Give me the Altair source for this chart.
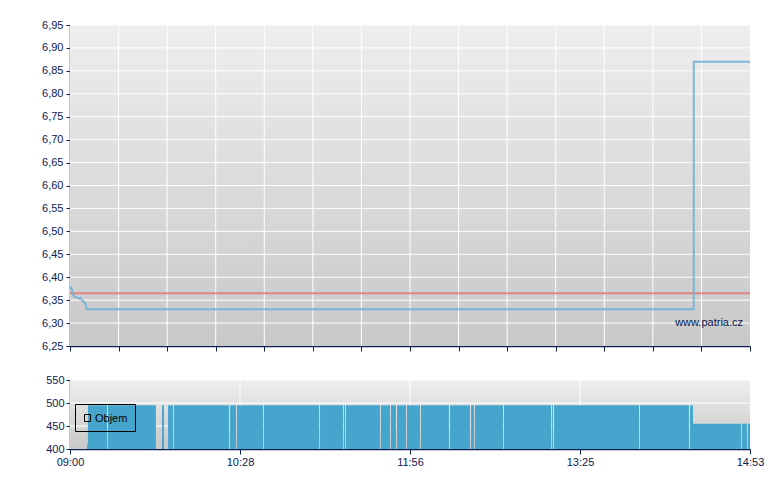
import altair as alt
import pandas as pd

# ---- data (minutes after 09:00) ----
price_t = [0, 1.0, 1.6, 2.6, 4.2, 4.9, 5.5, 6.2, 7.8, 8.8, 323.8, 323.8, 353]
price_v = [6.38, 6.373, 6.362, 6.357, 6.355, 6.353, 6.355, 6.35, 6.344, 6.33, 6.33, 6.87, 6.87]
prev_close = 6.365

vol_start = [8.8, 9.3, 19.7, 47.8, 50.9, 54.0, 83.1, 86.7, 100.7, 129.8, 142.2, 143.3, 161.4,
             166.6, 169.8, 174.9, 182.2, 197.3, 208.2, 210.2, 225.3, 250.2, 251.3, 295.9,
             321.9, 323.4, 348.8, 351.9]
vol_end = [9.3, 19.2, 44.6, 48.8, 53.5, 82.5, 86.2, 100.2, 129.3, 141.7, 142.8, 160.9, 166.1,
           169.2, 174.4, 181.7, 196.7, 207.6, 209.7, 224.8, 249.7, 250.7, 295.4, 321.3,
           323.4, 348.3, 351.4, 353]
vol_value = [410] + [495] * 24 + [455, 455, 455]

x_ticks_bottom = [0, 88.25, 176.5, 264.75, 353]
x_labels_bottom = ["09:00", "10:28", "11:56", "13:25", "14:53"]
x_ticks_top = [round(353 * i / 14, 4) for i in range(15)]
y_ticks_top = [6.25, 6.30, 6.35, 6.40, 6.45, 6.50, 6.55, 6.60, 6.65, 6.70, 6.75, 6.80, 6.85, 6.90, 6.95]
y_ticks_bottom = [400, 450, 500, 550]

NAVY = "#0C2052"
FONT = "Liberation Sans"

price_df = pd.DataFrame({"t": price_t, "v": price_v, "i": list(range(len(price_t)))})
vol_df = pd.DataFrame({"s": vol_start, "e": vol_end, "v": vol_value})
one = pd.DataFrame({"a": [0]})

xscale = alt.Scale(domain=[0, 353], nice=False, zero=False)
top_y_scale = alt.Scale(domain=[6.25, 6.95], nice=False, zero=False)
bot_y_scale = alt.Scale(domain=[400, 550], nice=False, zero=False)

grad = alt.LinearGradient(
    gradient="linear",
    stops=[alt.GradientStop(color="#eeeeee", offset=0),
           alt.GradientStop(color="#c8c8c8", offset=1)],
    x1=0, x2=0, y1=0, y2=1,
)

# ---- top price chart ----
top_xaxis = alt.Axis(values=x_ticks_top, labels=False, grid=False, tickSize=5,
                     title=None, minExtent=5, maxExtent=5)
top_yaxis = alt.Axis(values=y_ticks_top, grid=False, tickSize=4, labelPadding=3,
                     title=None, minExtent=50, maxExtent=50, labelOverlap=False,
                     labelExpr="replace(format(datum.value, '.2f'), '.', ',')")

top_bg = alt.Chart(one).mark_rect(color=grad).encode(
    x=alt.X(datum=0, scale=xscale, axis=top_xaxis, title=None),
    x2=alt.datum(353),
    y=alt.Y(datum=6.25, scale=top_y_scale, axis=top_yaxis, title=None),
    y2=alt.datum(6.95),
)
top_vgrid = alt.Chart(pd.DataFrame({"g": x_ticks_top[1:-1]})).mark_rule(
    color="white", strokeWidth=1).encode(
    x=alt.X("g:Q", scale=xscale, axis=top_xaxis, title=None))
top_hgrid = alt.Chart(pd.DataFrame({"g": y_ticks_top[1:]})).mark_rule(
    color="white", strokeWidth=1).encode(
    y=alt.Y("g:Q", scale=top_y_scale, axis=top_yaxis, title=None))

line = alt.Chart(price_df).mark_line(color="#70B3D6", strokeWidth=2, opacity=0.9).encode(
    x=alt.X("t:Q", scale=xscale, axis=top_xaxis, title=None),
    y=alt.Y("v:Q", scale=top_y_scale, axis=top_yaxis, title=None),
    order="i:Q",
)
rule = alt.Chart(one).mark_rule(color="#E07478", strokeWidth=2, opacity=0.85).encode(
    y=alt.Y(datum=prev_close, scale=top_y_scale, axis=top_yaxis, title=None)
)
mark_txt = alt.Chart(one).mark_text(text="www.patria.cz", align="right", baseline="middle",
                                    font=FONT, fontSize=11, color=NAVY).encode(
    x=alt.value(673), y=alt.value(298)
)
top = alt.layer(top_bg, top_vgrid, top_hgrid, rule, line, mark_txt).properties(
    width=680, height=321)

# ---- bottom volume chart ----
bot_xaxis = alt.Axis(values=x_ticks_bottom, grid=False, tickSize=5, labelPadding=2,
                     title=None, labelOverlap=False, labelFlush=False,
                     labelExpr="%s[indexof(%s, datum.value)]" % (
                         str(x_labels_bottom), str(x_ticks_bottom)))
bot_yaxis = alt.Axis(values=y_ticks_bottom, grid=False, tickSize=4, labelPadding=2,
                     title=None, labelOverlap=False, minExtent=50, maxExtent=50)

bot_bg = alt.Chart(one).mark_rect(color=grad).encode(
    x=alt.X(datum=0, scale=xscale, axis=bot_xaxis, title=None),
    x2=alt.datum(353),
    y=alt.Y(datum=400, scale=bot_y_scale, axis=bot_yaxis, title=None),
    y2=alt.datum(550),
)
bot_vgrid = alt.Chart(pd.DataFrame({"g": x_ticks_bottom[1:-1]})).mark_rule(
    color="white", strokeWidth=1).encode(
    x=alt.X("g:Q", scale=xscale, axis=bot_xaxis, title=None))
bot_hgrid = alt.Chart(pd.DataFrame({"g": y_ticks_bottom[1:]})).mark_rule(
    color="white", strokeWidth=1).encode(
    y=alt.Y("g:Q", scale=bot_y_scale, axis=bot_yaxis, title=None))

bars = alt.Chart(vol_df).mark_rect(color="#46A5CD").encode(
    x=alt.X("s:Q", scale=xscale, axis=bot_xaxis, title=None),
    x2="e:Q",
    y=alt.Y("v:Q", scale=bot_y_scale, axis=bot_yaxis, title=None),
    y2=alt.datum(400),
)
legend_box = alt.Chart(one).mark_rect(fillOpacity=0, stroke="black", strokeWidth=1).encode(
    x=alt.value(5.5), x2=alt.value(65.5), y=alt.value(24.5), y2=alt.value(51.5)
)
legend_sq = alt.Chart(one).mark_rect(fillOpacity=0, stroke="black", strokeWidth=1).encode(
    x=alt.value(14.5), x2=alt.value(20.5), y=alt.value(34.5), y2=alt.value(41.5)
)
legend_txt = alt.Chart(one).mark_text(text="Objem", align="left", baseline="middle",
                                      font=FONT, fontSize=11, color="black").encode(
    x=alt.value(25), y=alt.value(38.5)
)
bottom = alt.layer(bot_bg, bot_vgrid, bot_hgrid, bars, legend_box, legend_sq,
                   legend_txt).properties(width=680, height=69)

chart = alt.vconcat(top, bottom, spacing=22).properties(
    padding={"left": 12, "top": 11, "right": 5, "bottom": 5}
).configure_view(
    strokeWidth=0
).configure_axis(
    labelFont=FONT, labelFontSize=11, labelColor=NAVY,
    domainColor=NAVY, tickColor=NAVY, domainWidth=1.5, tickWidth=1,
)

chart.save("out.html", embed_options={"renderer": "svg", "actions": False})
